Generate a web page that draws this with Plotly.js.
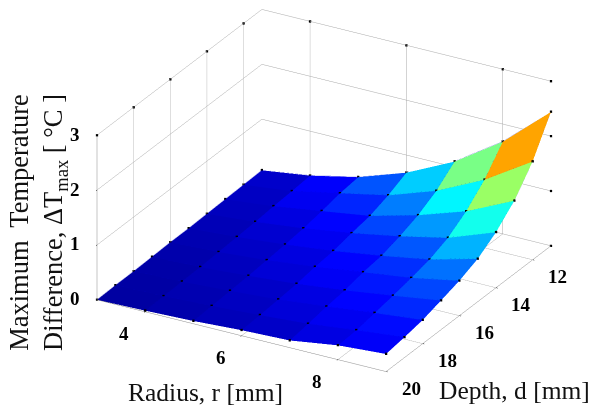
<!DOCTYPE html>
<html><head><meta charset="utf-8">
<script src="https://cdn.plot.ly/plotly-3.0.1.min.js"></script>
<style>html,body{margin:0;background:#fff}#c{width:600px;height:414px}</style></head>
<body><div id="c"></div>
<script>
const radius=[3,4,5,6,7,8,9];
const depth=[11,12,13,14,15,16,17,18,19,20];
const z_r3=[.07,.06,.05,.04,.03,.03,.02,.01,.01,0];
const z_r4=[.19,.16,.14,.11,.09,.07,.05,.04,.03,.02];
const z_r5=[.38,.34,.27,.21,.17,.14,.11,.09,.07,.05];
const z_r6=[.68,.52,.40,.34,.27,.235,.18,.15,.12,.10];
const z_r7=[1.10,.82,.63,.50,.40,.355,.28,.24,.18,.13];
const z_r8=[1.68,1.24,.92,.69,.55,.47,.40,.34,.28,.26];
const z_r9=[2.44,1.79,1.33,1.01,.78,.635,.53,.43,.37,.32];
const zRows=[z_r3,z_r4,z_r5,z_r6,z_r7,z_r8,z_r9];
const rTicks=[4,6,8], dTicks=[12,14,16,18,20], zTicks=[0,1,2,3];
const jet=[[0,'#00008f'],[.125,'#0000ff'],[.375,'#00ffff'],[.625,'#ffff00'],[.875,'#ff0000'],[1,'#800000']];
const font='"Liberation Serif","Times New Roman",serif';
const nr=radius.length,nd=depth.length,id=(i,j)=>i*nd+j;
const X=[],Y=[],Z=[],I=[],J=[],K=[],C=[];
radius.forEach((r,i)=>depth.forEach((d,j)=>{X.push(r);Y.push(d);Z.push(zRows[i][j]);}));
for(let i=0;i<nr-1;i++)for(let j=0;j<nd-1;j++){
  const v=zRows[i+1][j];
  I.push(id(i,j),id(i,j));J.push(id(i+1,j),id(i+1,j+1));K.push(id(i+1,j+1),id(i,j+1));C.push(v,v);
}
const lx=[],ly=[],lz=[];
radius.forEach((r,i)=>{depth.forEach((d,j)=>{lx.push(r);ly.push(d);lz.push(zRows[i][j]+.005);});lx.push(null);ly.push(null);lz.push(null);});
depth.forEach((d,j)=>{radius.forEach((r,i)=>{lx.push(r);ly.push(d);lz.push(zRows[i][j]+.005);});lx.push(null);ly.push(null);lz.push(null);});
const tx=[],ty=[],tz=[];
rTicks.forEach(r=>{tx.push(r);ty.push(11);tz.push(3);});
dTicks.forEach(d=>{tx.push(3);ty.push(d);tz.push(3);});
zTicks.forEach(z=>{tx.push(9);ty.push(11);tz.push(z);});
const data=[
 {type:'mesh3d',x:X,y:Y,z:Z,i:I,j:J,k:K,intensity:C,intensitymode:'cell',colorscale:jet,cmin:-0.05,cmax:3.45,showscale:false,flatshading:true,hoverinfo:'skip',
  lighting:{ambient:1,diffuse:0,specular:0,roughness:1,fresnel:0}},
 {type:'scatter3d',mode:'lines',x:lx,y:ly,z:lz,line:{color:'rgba(0,0,60,0.3)',width:1},hoverinfo:'skip',showlegend:false},
 {type:'scatter3d',mode:'markers',x:X,y:Y,z:Z.map(v=>v+.005),marker:{size:1.2,color:'#000',symbol:'square'},hoverinfo:'skip',showlegend:false},
 {type:'scatter3d',mode:'markers',x:tx,y:ty,z:tz,marker:{size:1.2,color:'#000',symbol:'square'},hoverinfo:'skip',showlegend:false}
];
const ax=(range,vals)=>({range,tickmode:'array',tickvals:vals,ticktext:vals.map(String),title:{text:''},showticklabels:false,
 showgrid:true,gridcolor:'#a8a8a8',gridwidth:1,showbackground:false,showline:true,linecolor:'#8c8c8c',linewidth:1,
 zeroline:false,ticks:'outside',ticklen:2,tickcolor:'#000',showspikes:false});
const lab=(text,x,y,z,xshift,yshift)=>({text,x,y,z,xshift,yshift,showarrow:false,xanchor:'center',yanchor:'middle',
 font:{family:font,size:19,color:'#000',weight:'bold'}});
const sceneAnn=[
 ...rTicks.map(r=>lab(String(r),r,20,0,-21,-22)),
 ...dTicks.map(d=>lab(String(d),9,d,0,25,-17)),
 ...zTicks.map(z=>lab(String(z),3,20,z,-22,1))];
const ann=(text,x,y,angle,size)=>({text,x:x/600,y:1-y/414,xref:'paper',yref:'paper',showarrow:false,textangle:angle||0,
 font:{family:font,size:size||25.5,color:'#111'},xanchor:'center',yanchor:'middle'});
const layout={width:600,height:414,margin:{l:0,r:0,t:0,b:0},paper_bgcolor:'#fff',showlegend:false,
 annotations:[ann('Radius, r [mm]',205,392),ann('Depth, d [mm]',514,390),
  ann('Maximum  Temperature<br>Difference, ΔT<sub>max</sub> [ °C ]',38,223,-90,26.5)],
 scene:{domain:{x:[.08,1],y:[.08,1]},aspectmode:'manual',aspectratio:{x:1.747,y:1.747,z:.96},annotations:sceneAnn,
  camera:{projection:{type:'orthographic'},eye:{x:.892,y:-1.564,z:.87},center:{x:0,y:0,z:0},up:{x:0,y:0,z:1}},
  xaxis:ax([3,9],rTicks),yaxis:ax([20,11],dTicks),zaxis:ax([0,3],zTicks)}};
Plotly.newPlot('c',data,layout,{displayModeBar:false});
</script></body></html>
